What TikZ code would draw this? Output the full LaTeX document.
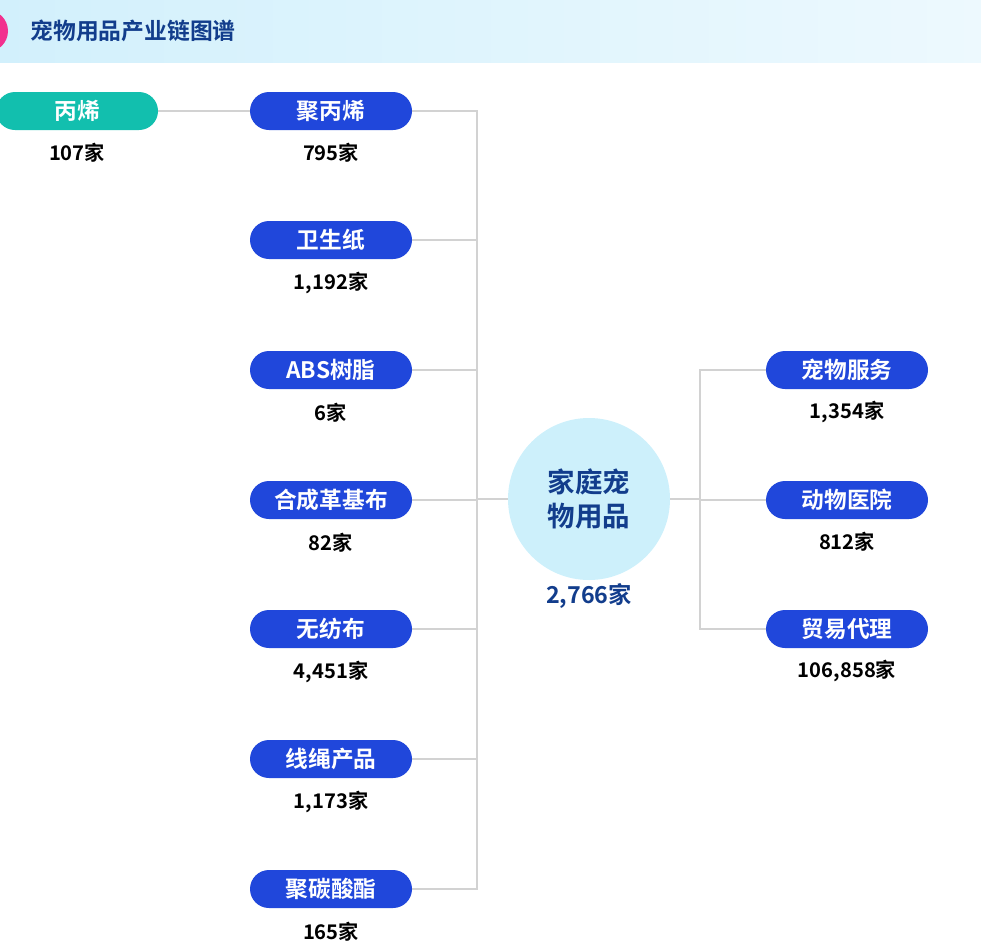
\documentclass[tikz,border=0pt]{standalone}
\usepackage{fontspec}
\newfontfamily\cjk{Noto Sans CJK SC}[BoldFont={Noto Sans CJK SC Bold}]
\definecolor{pillblue}{HTML}{2047DB}
\definecolor{pillgreen}{HTML}{12BFAE}
\definecolor{navy}{HTML}{123D8C}
\definecolor{corefill}{HTML}{CDF0FB}
\definecolor{linkgray}{HTML}{D2D2D2}
\definecolor{bandL}{HTML}{D2F0FC}
\definecolor{bandR}{HTML}{EDF9FE}
\definecolor{dotpink}{HTML}{F2308E}
\tikzset{
  pill/.style={rounded corners=19pt, fill=pillblue, minimum width=162pt, minimum height=38pt,
    inner sep=0pt, text=white, font=\cjk\bfseries\fontsize{22.7}{26}\selectfont},
  rawpill/.style={pill, fill=pillgreen},
  count/.style={font=\cjk\bfseries\fontsize{20.2}{24}\selectfont, text=black},
  link/.style={draw=linkgray, line width=2.5pt}
}
\begin{document}
\begin{tikzpicture}[x=1pt,y=-1pt]
\useasboundingbox (0,0) rectangle (981,948);
% header band
\shade[left color=bandL, right color=bandR] (0,0) rectangle (981,62);
\fill[dotpink] (-13,31) circle (21);
\node[anchor=west, text=navy, font=\cjk\bfseries\fontsize{22.8}{26}\selectfont] (title) at (27,31) {宠物用品产业链图谱};

% upstream
\node[rawpill] (RM1) at (77,111) {丙烯};
\node[count] (RM1n) at (77,153) {107家};

\node[pill] (UP1) at (331,111) {聚丙烯};
\node[count] (UP1n) at (331,153) {795家};
\node[pill] (UP2) at (331,240) {卫生纸};
\node[count] (UP2n) at (331,283) {1,192家};
\node[pill] (UP3) at (331,370) {ABS树脂};
\node[count] (UP3n) at (331,413) {6家};
\node[pill] (UP4) at (331,500) {合成革基布};
\node[count] (UP4n) at (331,543) {82家};
\node[pill] (UP5) at (331,629) {无纺布};
\node[count] (UP5n) at (331,672) {4,451家};
\node[pill] (UP6) at (331,759) {线绳产品};
\node[count] (UP6n) at (331,802) {1,173家};
\node[pill] (UP7) at (331,889) {聚碳酸酯};
\node[count] (UP7n) at (331,932) {165家};

% core
\node[circle, fill=corefill, minimum size=162pt, inner sep=0pt, align=center,
  text=navy, font=\cjk\bfseries\fontsize{27.5}{34}\selectfont] (core) at (589,499) {家庭宠\\物用品};
\node[font=\cjk\bfseries\fontsize{23.3}{26}\selectfont, text=navy] (coren) at (589,596) {2,766家};

% downstream
\node[pill] (DN1) at (847,370) {宠物服务};
\node[count] (DN1n) at (847,412) {1,354家};
\node[pill] (DN2) at (847,500) {动物医院};
\node[count] (DN2n) at (847,542) {812家};
\node[pill] (DN3) at (847,629) {贸易代理};
\node[count] (DN3n) at (847,671) {106,858家};

% links
\coordinate (JL) at (477,499);
\coordinate (JR) at (700,499);
\draw[link] (RM1.east) -- (UP1.west);
\foreach \i in {1,...,7} {\draw[link] (UP\i.east) -| (JL);}
\draw[link] (JL) -- (core.west);
\draw[link] (core.east) -- (JR);
\foreach \i in {1,2,3} {\draw[link] (JR) |- (DN\i.west);}
\end{tikzpicture}
\end{document}
